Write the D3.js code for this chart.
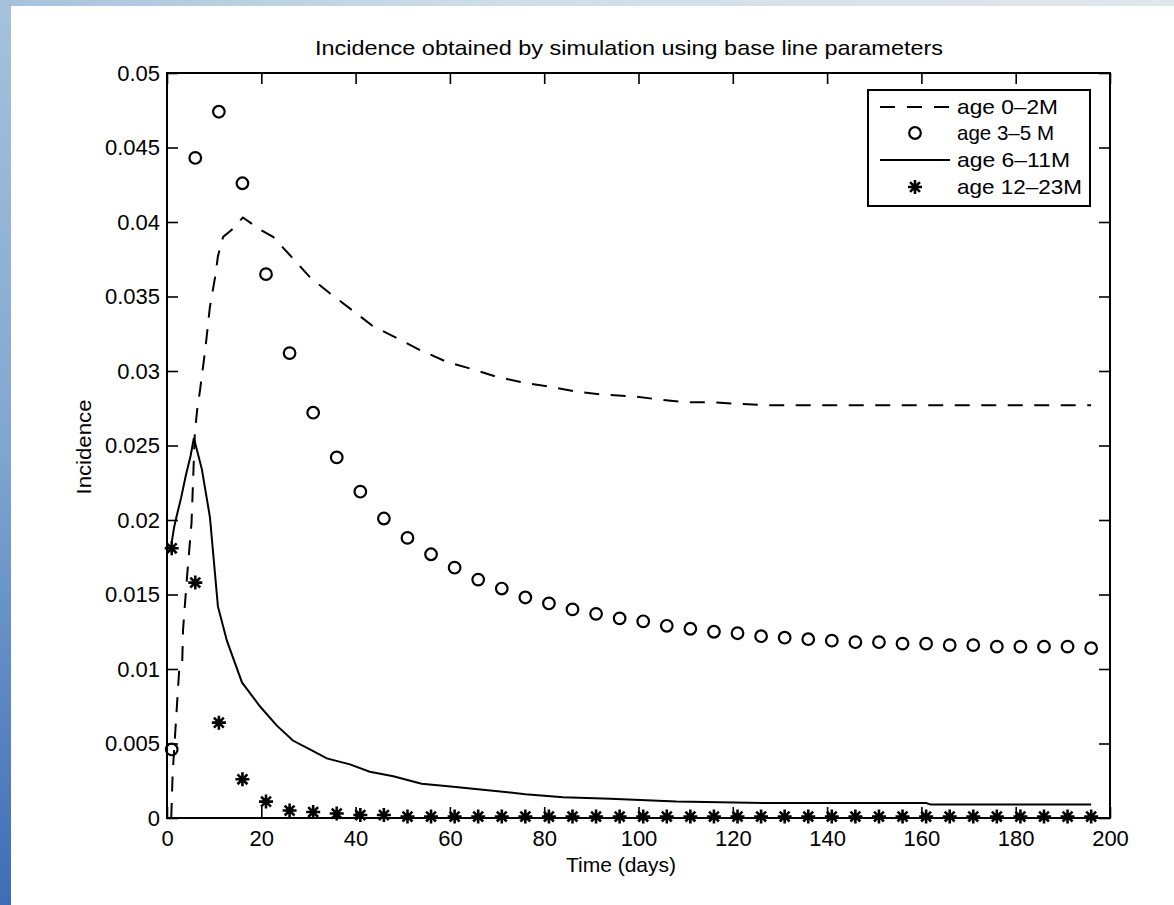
<!DOCTYPE html>
<html>
<head>
<meta charset="utf-8">
<script src="https://cdn.jsdelivr.net/npm/d3@7"></script>
<style>
  body { margin: 0; background: #fff; }
  svg { display: block; }
  text { font-family: "Liberation Sans", Arial, Helvetica, sans-serif; fill: #000; }
</style>
</head>
<body>
<div id="chart"></div>
<script>
// marker days for the two marker series
let markerDays = [1, 6, 11, 16, 21, 26, 31, 36, 41, 46, 51, 56, 61, 66, 71, 76, 81, 86, 91, 96,
  101, 106, 111, 116, 121, 126, 131, 136, 141, 146, 151, 156, 161, 166, 171, 176, 181, 186, 191, 196];

// age 3-5 M (circles)
let age3to5 = [0.0046, 0.0443, 0.0474, 0.0426, 0.0365, 0.0312, 0.0272, 0.0242, 0.0219, 0.0201,
  0.0188, 0.0177, 0.0168, 0.0160, 0.0154, 0.0148, 0.0144, 0.0140, 0.0137, 0.0134,
  0.0132, 0.0129, 0.0127, 0.0125, 0.0124, 0.0122, 0.0121, 0.0120, 0.0119, 0.0118,
  0.0118, 0.0117, 0.0117, 0.0116, 0.0116, 0.0115, 0.0115, 0.0115, 0.0115, 0.0114];

// age 12-23M (stars)
let age12to23 = [0.0181, 0.0158, 0.0064, 0.0026, 0.0011, 0.0005, 0.0004, 0.0003, 0.0002, 0.0002,
  0.0001, 0.0001, 0.0001, 0.0001, 0.0001, 0.0001, 0.0001, 0.0001, 0.0001, 0.0001,
  0.0001, 0.0001, 0.0001, 0.0001, 0.0001, 0.0001, 0.0001, 0.0001, 0.0001, 0.0001,
  0.0001, 0.0001, 0.0001, 0.0001, 0.0001, 0.0001, 0.0001, 0.0001, 0.0001, 0.0001];

// age 0-2M (dashed line)
let days0to2 = [0.9, 1.2, 1.5, 2.2, 2.6, 3.2, 3.4, 4.2, 5.2, 5.9, 6.4, 7, 8.1, 9.1, 10.2, 10.8, 11.9,
  13.8, 16.1, 19.7, 22.5, 26, 30.3, 34.6, 39.2, 43.7, 48.8, 53.7, 59.4, 65, 70, 76, 82, 87, 93,
  99, 104, 110, 116, 121, 127, 140, 160, 196];
let age0to2 = [0, 0.003, 0.0045, 0.008, 0.0100, 0.0101, 0.0126, 0.016, 0.0198, 0.0258, 0.0274,
  0.0287, 0.0314, 0.0343, 0.0363, 0.0377, 0.039, 0.0395, 0.0403, 0.0395, 0.039, 0.0378, 0.0363,
  0.0352, 0.0341, 0.033, 0.0322, 0.0314, 0.0306, 0.0301, 0.0296, 0.0292, 0.0289, 0.0286, 0.0284,
  0.0283, 0.0281, 0.0279, 0.0279, 0.0278, 0.0277, 0.0277, 0.0277, 0.0277];

// age 6-11M (solid line)
let days6to11 = [1, 1.5, 2, 3, 4, 5, 5.7, 7.4, 9.1, 10.8, 12.7, 15.9, 19.7, 23.3, 26.7, 30.3, 33.9,
  38.8, 43, 48, 54, 60.7, 67, 76, 84, 94, 108, 127, 161, 162, 196];
let age6to11 = [0.0185, 0.0195, 0.0202, 0.0215, 0.023, 0.0243, 0.0255, 0.0234, 0.0202, 0.0142,
  0.0119, 0.0091, 0.0075, 0.0062, 0.0052, 0.0046, 0.004, 0.0036, 0.0031, 0.0028, 0.0023, 0.0021,
  0.0019, 0.0016, 0.0014, 0.0013, 0.0011, 0.001, 0.001, 0.0009, 0.0009];

let xTicks = [0, 20, 40, 60, 80, 100, 120, 140, 160, 180, 200];
let yTicks = [0, 0.005, 0.01, 0.015, 0.02, 0.025, 0.03, 0.035, 0.04, 0.045, 0.05];
let legendLabels = ["age 0\u20132M", "age 3\u20135 M", "age 6\u201311M", "age 12\u201323M"];

let W = 1174, H = 905;
let svg = d3.select("#chart").append("svg").attr("width", W).attr("height", H);

// blue slide background strips
let defs = svg.append("defs");
let gl = defs.append("linearGradient").attr("id", "leftg").attr("x1", 0).attr("y1", 0).attr("x2", 0).attr("y2", 1);
gl.append("stop").attr("offset", "0%").attr("stop-color", "#a6c2dc");
gl.append("stop").attr("offset", "50%").attr("stop-color", "#7fa6d0");
gl.append("stop").attr("offset", "100%").attr("stop-color", "#3d6db6");
let gt = defs.append("linearGradient").attr("id", "topg").attr("x1", 0).attr("y1", 0).attr("x2", 1).attr("y2", 0);
gt.append("stop").attr("offset", "0%").attr("stop-color", "#a6c2dc");
gt.append("stop").attr("offset", "40%").attr("stop-color", "#cddde8");
gt.append("stop").attr("offset", "100%").attr("stop-color", "#e2e7eb");
svg.append("rect").attr("x", 0).attr("y", 0).attr("width", W).attr("height", 6).attr("fill", "url(#topg)");
svg.append("rect").attr("x", 0).attr("y", 0).attr("width", 11).attr("height", H).attr("fill", "url(#leftg)");

let x = d3.scaleLinear().domain([0, 200]).range([167, 1110]);
let y = d3.scaleLinear().domain([0, 0.05]).range([818, 73]);

let tickLen = 11;
let fmt = d3.format("~g");

let axes = svg.append("g").attr("class", "axes");
axes.append("g").attr("transform", `translate(0,${y(0)})`)
  .call(d3.axisBottom(x).tickValues(xTicks).tickSizeInner(-tickLen).tickSizeOuter(0).tickPadding(12));
axes.append("g").attr("transform", `translate(0,${y(0.05)})`)
  .call(d3.axisTop(x).tickValues(xTicks).tickSizeInner(-tickLen).tickSizeOuter(0).tickFormat(""));
axes.append("g").attr("transform", `translate(${x(0)},0)`)
  .call(d3.axisLeft(y).tickValues(yTicks).tickSizeInner(-tickLen).tickSizeOuter(0).tickPadding(7).tickFormat(fmt));
axes.append("g").attr("transform", `translate(${x(200)},0)`)
  .call(d3.axisRight(y).tickValues(yTicks).tickSizeInner(-tickLen).tickSizeOuter(0).tickFormat(""));
axes.selectAll(".domain").remove();
axes.selectAll(".tick line").attr("stroke", "#000").attr("stroke-width", 1.6);
axes.selectAll(".tick text").style("font-size", "22px").attr("fill", "#1a1a1a");

svg.append("rect")
  .attr("x", x(0)).attr("y", y(0.05))
  .attr("width", x(200) - x(0)).attr("height", y(0) - y(0.05))
  .attr("fill", "none").attr("stroke", "#000").attr("stroke-width", 2);

// lines
let line = d3.line().x(d => x(d[0])).y(d => y(d[1]));
svg.append("path")
  .attr("d", line(d3.zip(days0to2, age0to2)))
  .attr("fill", "none").attr("stroke", "#000").attr("stroke-width", 2)
  .attr("stroke-dasharray", "15,11.5");
svg.append("path")
  .attr("d", line(d3.zip(days6to11, age6to11)))
  .attr("fill", "none").attr("stroke", "#000").attr("stroke-width", 2);

// markers
function star(g, cx, cy, r) {
  let p = "";
  for (let k = 0; k < 4; k++) {
    let a = k * Math.PI / 4;
    let dx = r * Math.cos(a), dy = r * Math.sin(a);
    p += `M${cx - dx},${cy - dy}L${cx + dx},${cy + dy}`;
  }
  g.append("path").attr("d", p).attr("stroke", "#000").attr("stroke-width", 2.6).attr("fill", "none");
}

svg.append("g").selectAll("circle")
  .data(d3.zip(markerDays, age3to5)).enter()
  .append("circle")
  .attr("cx", d => x(d[0])).attr("cy", d => y(d[1])).attr("r", 5.8)
  .attr("fill", "none").attr("stroke", "#000").attr("stroke-width", 2.2);

let stars = svg.append("g");
d3.zip(markerDays, age12to23).forEach(d => star(stars, x(d[0]), y(d[1]), 7));

// title and axis labels
svg.append("text").attr("x", 629).attr("y", 55).attr("text-anchor", "middle")
  .attr("textLength", 628).attr("lengthAdjust", "spacingAndGlyphs")
  .style("font-size", "21px").attr("fill", "#1a1a1a")
  .text("Incidence obtained by simulation using base line parameters");
svg.append("text").attr("x", 621).attr("y", 872).attr("text-anchor", "middle")
  .style("font-size", "21px").attr("fill", "#1a1a1a").text("Time (days)");
svg.append("text").attr("transform", "translate(91,447) rotate(-90)").attr("text-anchor", "middle")
  .attr("textLength", 95).attr("lengthAdjust", "spacingAndGlyphs")
  .style("font-size", "21px").attr("fill", "#1a1a1a").text("Incidence");

// legend
let leg = svg.append("g");
leg.append("rect").attr("x", 868).attr("y", 90).attr("width", 222).attr("height", 116)
  .attr("fill", "#fff").attr("stroke", "#000").attr("stroke-width", 2);
let rowY = [107, 133, 160, 187];
let labelW = [101, 97, 113, 125];
legendLabels.forEach((lab, i) => {
  let yy = rowY[i];
  if (i === 0) {
    leg.append("line").attr("x1", 880).attr("x2", 950).attr("y1", yy).attr("y2", yy)
      .attr("stroke", "#000").attr("stroke-width", 2).attr("stroke-dasharray", "15,12");
  } else if (i === 1) {
    leg.append("circle").attr("cx", 915).attr("cy", yy).attr("r", 5.8)
      .attr("fill", "none").attr("stroke", "#000").attr("stroke-width", 2.2);
  } else if (i === 2) {
    leg.append("line").attr("x1", 880).attr("x2", 950).attr("y1", yy).attr("y2", yy)
      .attr("stroke", "#000").attr("stroke-width", 2);
  } else {
    star(leg, 915, yy, 7);
  }
  leg.append("text").attr("x", 957).attr("y", yy + 7)
    .attr("textLength", labelW[i]).attr("lengthAdjust", "spacingAndGlyphs")
    .style("font-size", "21px").attr("fill", "#1a1a1a").text(lab);
});
</script>
</body>
</html>
